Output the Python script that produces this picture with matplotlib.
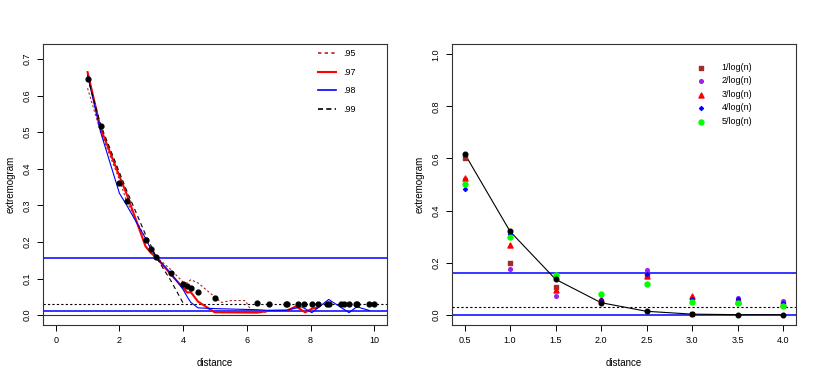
import numpy as np
import matplotlib
matplotlib.use("Agg")
import matplotlib.pyplot as plt

plt.rcParams['font.family'] = ['Liberation Sans', 'DejaVu Sans']
plt.rcParams['font.size'] = 7

# left panel: empirical extremogram points
pt_x = [1.0, 1.41, 2.0, 2.23, 2.82, 2.99, 3.15, 3.61, 4.0, 4.13, 4.24, 4.47, 4.99,
        6.32, 6.70, 7.22, 7.27, 7.61, 7.80, 8.05, 8.24, 8.53, 8.59, 8.94, 9.05,
        9.21, 9.42, 9.47, 9.84, 9.99]
pt_y = [0.646, 0.517, 0.362, 0.311, 0.205, 0.181, 0.160, 0.115, 0.0865, 0.080, 0.074,
        0.063, 0.047, 0.033, 0.031, 0.030, 0.030, 0.030, 0.030, 0.030, 0.030, 0.030,
        0.030, 0.030, 0.030, 0.030, 0.030, 0.030, 0.030, 0.030]

# quantile curves
q95_x = [1.0, 1.41, 2.0, 2.23, 2.82, 2.99, 3.15, 3.61, 4.0, 4.13, 4.24, 4.47, 4.99,
         5.2, 5.5, 5.95, 6.1, 6.3, 6.6]
q95_y = [0.62, 0.50, 0.37, 0.31, 0.21, 0.18, 0.16, 0.125, 0.09, 0.088, 0.097, 0.088,
         0.05, 0.035, 0.04, 0.04, 0.018, 0.010, 0.008]
q97_x = [1.0, 1.41, 2.0, 2.23, 2.82, 2.99, 3.15, 3.61, 4.0, 4.13, 4.24, 4.47, 4.99,
         6.32, 6.70, 7.22, 7.27, 7.54, 7.83, 8.05, 8.2]
q97_y = [0.664, 0.51, 0.38, 0.33, 0.188, 0.17, 0.158, 0.112, 0.075, 0.062, 0.063,
         0.037, 0.008, 0.007, 0.012, 0.013, 0.013, 0.024, 0.008, 0.018, 0.020]
q98_x = [1.0, 1.41, 2.0, 2.23, 2.82, 2.99, 3.15, 3.61, 4.0, 4.13, 4.24, 4.47, 4.99,
         6.32, 6.70, 7.22, 7.72, 8.04, 8.57, 8.94, 9.21, 9.45, 9.84]
q98_y = [0.655, 0.50, 0.333, 0.30, 0.21, 0.18, 0.16, 0.115, 0.07, 0.05, 0.035, 0.02,
         0.018, 0.015, 0.013, 0.013, 0.023, 0.007, 0.043, 0.022, 0.007, 0.023, 0.013]
q99_x = [1.0, 1.41, 2.0, 2.23, 2.82, 2.99, 3.15, 3.37, 3.61, 4.0]
q99_y = [0.65, 0.52, 0.39, 0.34, 0.22, 0.19, 0.16, 0.128, 0.095, 0.033]

left_hlines_blue = [0.155, 0.011]
left_hline_dot = 0.031

# right panel
dist = [0.5, 1.0, 1.5, 2.0, 2.5, 3.0, 3.5, 4.0]
emp = [0.619, 0.320, 0.136, 0.046, 0.013, 0.002, 0.0, 0.0]
s1 = [0.602, 0.200, 0.107, 0.053, 0.153, 0.001, 0.049, 0.046]
s2 = [0.520, 0.177, 0.071, 0.049, 0.172, 0.064, 0.064, 0.051]
s3 = [0.526, 0.268, 0.096, 0.062, 0.149, 0.071, 0.053, 0.042]
s4 = [0.481, 0.310, 0.139, 0.055, 0.155, 0.062, 0.060, 0.044]
s5 = [0.503, 0.300, 0.153, 0.081, 0.119, 0.050, 0.046, 0.035]
right_hlines_blue = [0.160, 0.0]
right_hline_dot = 0.031

fig = plt.figure(figsize=(8.17, 3.82), dpi=100)
ax1 = fig.add_axes([0.0526, 0.149, 0.4211, 0.736])
ax2 = fig.add_axes([0.553, 0.149, 0.421, 0.736])

for ax in (ax1, ax2):
    for s in ax.spines.values():
        s.set_linewidth(0.8)
        s.set_color('#333333')
    ax.tick_params(direction='out', length=4, width=0.7, pad=4, labelsize=6.5)

# left
ax1.axhline(0, color='#333333', lw=0.8)
for h in left_hlines_blue:
    ax1.axhline(h, color='blue', lw=1.1)
ax1.axhline(left_hline_dot, color='black', lw=0.8, ls=(0, (2, 2)))
ax1.plot(q95_x, q95_y, color='#b22222', lw=0.8, ls=(0, (2, 2)), label='.95')
ax1.plot(q97_x, q97_y, color='red', lw=1.5, label='.97')
ax1.plot(q98_x, q98_y, color='blue', lw=0.8, label='.98')
ax1.plot(q99_x, q99_y, color='black', lw=0.8, ls=(0, (4, 3)), label='.99')
ax1.scatter(pt_x, pt_y, s=12, color='black', zorder=5)
ax1.set_xlim(-0.4, 10.4)
ax1.set_ylim(-0.027, 0.741)
ax1.set_xticks([0, 2, 4, 6, 8, 10])
ax1.set_yticks(np.arange(0, 0.71, 0.1))
ax1.set_yticklabels(['0.0', '0.1', '0.2', '0.3', '0.4', '0.5', '0.6', '0.7'],
                    rotation=90, va='center')
ax1.set_xlabel('distance', labelpad=9)
ax1.set_ylabel('extremogram', labelpad=5)
leg_handles = [
    plt.Line2D([], [], color='#b22222', lw=1.2, ls=(0, (2, 2))),
    plt.Line2D([], [], color='red', lw=1.5),
    plt.Line2D([], [], color='blue', lw=1.2),
    plt.Line2D([], [], color='black', lw=1.2, ls=(0, (3, 2))),
]
ax1.legend(leg_handles, ['.95', '.97', '.98', '.99'], loc='upper left',
           bbox_to_anchor=(0.777, 1.01), frameon=False, handlelength=1.9,
           labelspacing=1.05, fontsize=6.5, handletextpad=0.8)

# right
for h in right_hlines_blue:
    ax2.axhline(h, color='blue', lw=1.1)
ax2.axhline(right_hline_dot, color='black', lw=0.8, ls=(0, (2, 2)))
ax2.plot(dist, emp, color='black', lw=0.8)
ax2.scatter(dist, s1, marker='s', s=10, color='brown', zorder=4, label='1/log(n)')
ax2.scatter(dist, s2, marker='o', s=7, color='#a020f0', zorder=4, label='2/log(n)')
ax2.scatter(dist, s3, marker='^', s=13, color='red', zorder=4, label='3/log(n)')
ax2.scatter(dist, s4, marker='D', s=4, color='blue', zorder=4, label='4/log(n)')
ax2.scatter(dist, s5, marker='o', s=13, color='#00ff00', zorder=4, label='5/log(n)')
ax2.scatter(dist, emp, marker='o', s=11, color='black', zorder=5)
ax2.set_xlim(0.36, 4.14)
ax2.set_ylim(-0.04, 1.04)
ax2.set_xticks(dist)
ax2.set_xticklabels(['0.5', '1.0', '1.5', '2.0', '2.5', '3.0', '3.5', '4.0'])
ax2.set_yticks([0, 0.2, 0.4, 0.6, 0.8, 1.0])
ax2.set_yticklabels(['0.0', '0.2', '0.4', '0.6', '0.8', '1.0'],
                    rotation=90, va='center')
ax2.set_xlabel('distance', labelpad=9)
ax2.set_ylabel('extremogram', labelpad=5)
ax2.legend(loc='upper left', bbox_to_anchor=(0.68, 0.955), frameon=False,
           labelspacing=0.5, fontsize=6.5, handletextpad=1.3, scatterpoints=1,
           borderaxespad=0.3)

fig.savefig('out.png', dpi=100)
